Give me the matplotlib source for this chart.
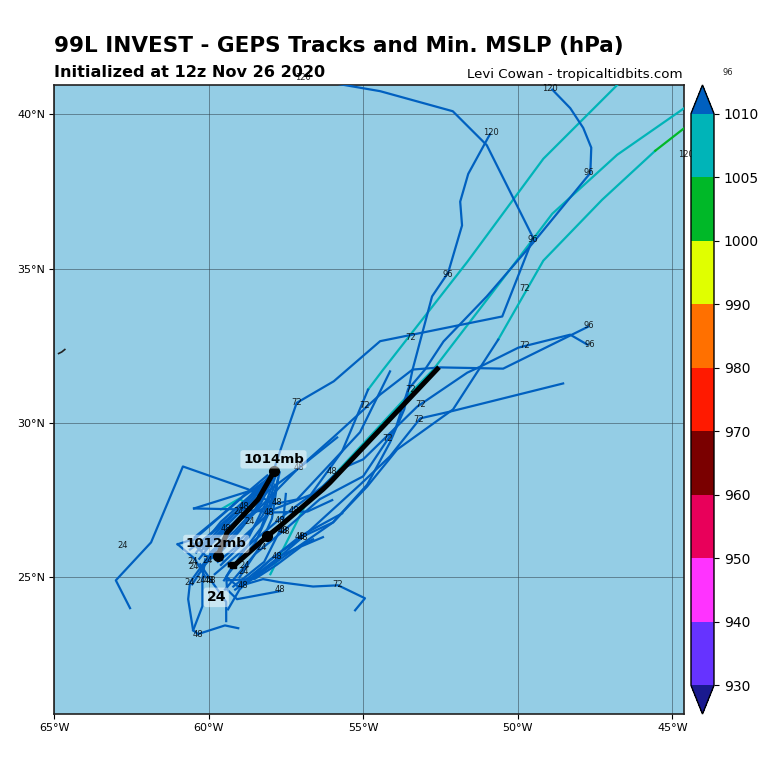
import matplotlib
matplotlib.use('Agg')
import matplotlib.pyplot as plt
from matplotlib.cm import ScalarMappable
from matplotlib.colors import BoundaryNorm, ListedColormap

# colour levels of min. MSLP
levels = [930, 940, 950, 960, 970, 980, 990, 1000, 1005, 1010]
level_colors = ['#6633ff', '#ff33ff', '#e8005a', '#7a0000', '#ff1a00',
                '#ff7000', '#e0ff00', '#00b828', '#00b4b8']
under_color = '#1a1a8f'
over_color = '#0060c0'

lon_ticks = [-65, -60, -55, -50, -45]
lat_ticks = [25, 30, 35, 40]

# ensemble tracks, (lon, lat)
blue_tracks = [
    [(-55.9, 41.0), (-54.45, 40.75), (-52.1, 40.1), (-51.0, 39.0), (-49.5, 36.0), (-50.5, 33.45),
     (-54.45, 32.65), (-55.95, 31.35), (-57.15, 30.65), (-57.7, 29.05), (-57.9, 28.45)],
    [(-50.9, 39.35), (-51.6, 38.07), (-51.86, 37.17), (-51.8, 36.4), (-52.25, 34.87), (-52.77, 34.1),
     (-53.4, 31.73), (-53.67, 30.44), (-54.13, 29.37), (-54.87, 28.0), (-55.97, 26.78), (-56.94, 26.33),
     (-58.0, 25.58), (-59.0, 24.6), (-59.37, 23.96)],
    [(-48.88, 40.8), (-48.3, 40.2), (-47.88, 39.56), (-47.62, 38.92), (-47.65, 38.1), (-49.5, 35.84),
     (-51.0, 34.1), (-52.4, 32.64), (-53.0, 31.73), (-53.55, 31.08), (-53.93, 29.88), (-55.0, 28.27),
     (-56.4, 27.53), (-57.52, 26.55), (-58.5, 25.75), (-59.47, 24.6)],
    [(-54.84, 31.08), (-55.68, 29.08), (-57.14, 27.52), (-57.95, 27.36), (-58.98, 26.88), (-60.0, 25.58),
     (-60.53, 24.77)],
    [(-50.63, 32.7), (-52.09, 30.44), (-53.9, 29.14), (-54.87, 27.94), (-55.97, 26.78), (-57.69, 25.58),
     (-58.82, 24.77)],
    [(-47.72, 33.12), (-50.47, 31.76), (-52.5, 31.8), (-53.4, 31.73), (-54.45, 30.92), (-55.97, 29.53),
     (-57.14, 28.49), (-58.0, 27.85), (-59.0, 26.88), (-59.95, 25.74)],
    [(-47.75, 32.54), (-48.3, 32.86), (-49.98, 32.44), (-51.2, 31.83), (-51.63, 31.63), (-53.25, 30.53),
     (-55.0, 28.82), (-55.74, 28.5), (-56.3, 27.95), (-57.52, 27.04), (-58.66, 26.07), (-59.8, 25.1)],
    [(-48.53, 31.28), (-52.18, 30.37), (-53.15, 30.15), (-54.13, 28.92), (-55.1, 28.0), (-57.04, 26.23),
     (-58.17, 25.26), (-59.14, 24.6)],
    [(-54.13, 31.67), (-55.1, 29.7), (-55.68, 29.08), (-56.7, 27.67), (-57.9, 27.2), (-59.0, 26.2)],
    [(-55.84, 29.53), (-57.14, 28.49), (-58.4, 27.2), (-59.47, 26.07), (-60.1, 25.43)],
    [(-56.62, 26.23), (-57.69, 25.68), (-58.66, 24.93)],
    [(-55.68, 27.07), (-57.04, 26.33), (-58.17, 25.42), (-58.98, 24.77)],
    [(-55.26, 23.93), (-54.94, 24.32), (-55.81, 24.74), (-56.62, 24.7), (-57.69, 24.84), (-58.24, 24.94),
     (-59.05, 24.7), (-59.43, 25.02), (-59.2, 25.4)],
    [(-57.69, 24.55), (-59.08, 24.29), (-59.4, 24.6), (-59.43, 25.0)],
    [(-62.54, 24.0), (-63.0, 24.9), (-61.86, 26.13), (-60.83, 28.59), (-58.72, 27.85), (-58.0, 27.43)],
    [(-60.47, 27.23), (-58.98, 27.2), (-57.9, 27.1), (-56.8, 27.13), (-56.0, 27.5)],
    [(-60.47, 27.23), (-58.5, 27.85), (-57.85, 28.35)],
    [(-61.0, 26.07), (-60.6, 26.2), (-60.1, 25.7), (-59.55, 25.55)],
    [(-61.0, 26.07), (-60.45, 25.6), (-60.1, 25.0)],
    [(-59.04, 23.35), (-59.47, 23.44), (-60.34, 23.16), (-60.5, 23.28), (-60.66, 24.29), (-60.6, 24.84),
     (-60.18, 25.42), (-59.0, 26.88)],
    [(-60.5, 23.28), (-60.2, 24.06), (-60.2, 24.94), (-60.11, 25.58)],
    [(-59.43, 23.58), (-59.43, 24.2), (-59.95, 24.94), (-60.27, 25.42)],
    [(-60.3, 25.6), (-59.5, 26.6), (-58.6, 27.5), (-57.95, 28.3)],
    [(-60.2, 26.0), (-59.3, 26.9), (-58.4, 27.9), (-57.85, 28.4)],
    [(-60.0, 26.1), (-59.0, 26.9), (-58.2, 27.7), (-57.9, 28.45)],
    [(-60.4, 25.8), (-59.6, 26.8), (-58.7, 27.6), (-58.0, 28.3)],
    [(-59.8, 25.6), (-59.0, 26.5), (-58.3, 27.4), (-57.8, 28.45)],
    [(-59.6, 25.4), (-58.7, 26.3), (-58.15, 27.4), (-57.75, 28.5)],
    [(-59.3, 25.2), (-58.5, 26.1), (-58.0, 27.2), (-57.7, 28.4)],
    [(-59.0, 25.0), (-58.4, 25.9), (-57.95, 26.9), (-57.75, 28.2)],
    [(-60.5, 26.2), (-59.7, 26.9), (-58.9, 27.6), (-58.2, 28.1)],
    [(-60.6, 25.9), (-59.8, 26.5), (-59.0, 27.2), (-58.3, 27.9)],
    [(-59.5, 24.9), (-58.9, 25.8), (-58.3, 26.6), (-57.9, 27.7)],
    [(-59.2, 24.7), (-58.2, 25.5), (-57.6, 26.7), (-57.5, 27.7)],
    [(-59.4, 24.9), (-58.5, 24.95), (-57.8, 25.4), (-57.0, 26.0), (-56.3, 26.3)],
    [(-60.35, 26.05), (-59.55, 26.75), (-58.8, 27.4), (-58.1, 28.2)],
    [(-60.25, 25.85), (-59.4, 26.7), (-58.5, 27.6), (-57.95, 28.4)],
    [(-60.1, 25.9), (-59.2, 26.75), (-58.45, 27.55), (-57.85, 28.3)],
    [(-59.95, 25.8), (-59.15, 26.5), (-58.5, 27.2), (-58.0, 28.0)],
    [(-60.45, 26.3), (-59.6, 27.0), (-58.75, 27.75), (-58.1, 28.3)],
    [(-59.7, 25.5), (-58.85, 26.2), (-58.25, 27.0), (-57.85, 28.0)],
]

teal_tracks = [
    [(-46.0, 41.7), (-46.78, 40.95), (-49.17, 38.56), (-51.63, 35.22), (-54.35, 31.73), (-54.84, 31.08)],
    [(-44.0, 40.7), (-44.64, 40.18), (-46.78, 38.69), (-48.88, 36.78), (-50.57, 34.55), (-52.73, 31.73),
     (-53.58, 30.86), (-56.07, 28.17), (-56.81, 27.46), (-57.69, 25.71), (-58.0, 25.1)],
    [(-45.55, 38.82), (-47.27, 37.23), (-49.17, 35.26), (-50.63, 32.7)],
    [(-59.6, 27.2), (-59.0, 27.55), (-58.7, 27.3)],
]

green_tracks = [
    [(-44.0, 40.0), (-44.64, 39.53), (-45.55, 38.82)],
]

# operational mean tracks
black_a = [(-57.88, 28.43), (-58.4, 27.52), (-59.4, 26.45), (-59.7, 25.7)]
black_b = [(-52.6, 31.75), (-56.07, 28.07), (-56.3, 27.85), (-57.7, 26.65), (-58.1, 26.33), (-59.15, 25.4),
           (-59.3, 25.4)]
black_dots = [(-57.88, 28.43), (-59.7, 25.7), (-58.1, 26.33)]
black_end = [(-59.2, 25.4)]

bermuda_lon = [-64.85, -64.75, -64.65]
bermuda_lat = [32.25, 32.3, 32.38]

# forecast hour labels
hour_labels = [
    ('24', -62.77, 26.03), ('24', -59.04, 27.14), ('24', -58.66, 26.8), ('24', -58.27, 25.97),
    ('24', -60.5, 25.52), ('24', -60.47, 25.36), ('24', -60.6, 24.84), ('24', -60.27, 24.9),
    ('24', -58.82, 25.38), ('24', -58.88, 25.2), ('24', -60.02, 25.55),
    ('48', -57.07, 28.55), ('48', -56.0, 28.43), ('48', -57.78, 27.43), ('48', -58.85, 27.3),
    ('48', -58.04, 27.1), ('48', -57.24, 27.17), ('48', -57.69, 26.85), ('48', -57.6, 26.5),
    ('48', -57.52, 26.47), ('48', -57.04, 26.33), ('48', -56.94, 26.3), ('48', -57.78, 25.68),
    ('48', -58.88, 24.74), ('48', -57.69, 24.6), ('48', -60.34, 23.16), ('48', -59.43, 26.58),
    ('48', -59.92, 24.9), ('48', -59.98, 24.9),
    ('72', -57.14, 30.66), ('72', -54.94, 30.57), ('72', -53.48, 32.77), ('72', -49.76, 34.35),
    ('72', -49.76, 32.51), ('72', -53.45, 31.1), ('72', -53.15, 30.6), ('72', -53.19, 30.11),
    ('72', -54.22, 29.5), ('72', -55.84, 24.77),
    ('96', -52.25, 34.8), ('96', -49.5, 35.94), ('96', -47.69, 38.1), ('96', -47.69, 33.16),
    ('96', -47.66, 32.54), ('96', -43.19, 41.35),
    ('120', -56.94, 41.18), ('120', -50.86, 39.4), ('120', -48.95, 40.83), ('120', -44.55, 38.69),
]

# labels with a pale box
boxed_labels = [
    ('1014mb', -57.9, 28.82, 9.6), ('1012mb', -59.75, 26.08, 9.6), ('24', -59.75, 24.35, 10),
]

fig = plt.figure(figsize=(7.68, 7.68), dpi=100)
ax = fig.add_axes([54 / 768, 1 - 714 / 768, 630 / 768, 629 / 768])
ax.set_facecolor('#94cde5')
ax.set_xlim(-65, -44.62)
ax.set_ylim(20.57, 40.95)

ax.set_xticks(lon_ticks)
ax.set_xticklabels(['%d°W' % abs(v) for v in lon_ticks], fontsize=8)
ax.set_yticks(lat_ticks)
ax.set_yticklabels(['%d°N' % v for v in lat_ticks], fontsize=8)
ax.tick_params(length=3.5, width=0.8, pad=3)
ax.grid(True, color='#33444f', lw=0.7, alpha=0.55)
ax.set_axisbelow(True)
for sp in ax.spines.values():
    sp.set_linewidth(1.2)
    sp.set_color('#222222')

ax.plot(bermuda_lon, bermuda_lat, color='#222222', lw=1.2, zorder=2)


def draw_tracks(tracks, color, z):
    for tr in tracks:
        ax.plot([p[0] for p in tr], [p[1] for p in tr], color=color, lw=1.6, zorder=z,
                solid_joinstyle='round')


draw_tracks(teal_tracks, level_colors[8], 3)
draw_tracks(green_tracks, level_colors[7], 3)
draw_tracks(blue_tracks, over_color, 3)

for tr in (black_a, black_b):
    ax.plot([p[0] for p in tr], [p[1] for p in tr], color='black', lw=3.6, zorder=5)
ax.plot([p[0] for p in black_dots], [p[1] for p in black_dots], 'o', color='black', ms=7, zorder=6)
ax.plot([p[0] for p in black_end], [p[1] for p in black_end], 's', color='black', ms=4.5, zorder=6)

for txt, lon, lat in hour_labels:
    ax.text(lon, lat, txt, fontsize=6, color='black', ha='center', va='center', alpha=0.85,
            zorder=7, clip_on=False)

for txt, lon, lat, size in boxed_labels:
    ax.text(lon, lat, txt, fontsize=size, fontweight='bold', color='black', ha='center', va='center',
            zorder=8, bbox=dict(boxstyle='round,pad=0.2', facecolor='white', edgecolor='none', alpha=0.5))

# colorbar
cmap = ListedColormap(level_colors)
cmap.set_under(under_color)
cmap.set_over(over_color)
norm = BoundaryNorm(levels, cmap.N)
cax = fig.add_axes([691 / 768, 1 - 714 / 768, 23 / 768, 629 / 768])
cb = fig.colorbar(ScalarMappable(norm=norm, cmap=cmap), cax=cax, extend='both', spacing='uniform',
                  ticks=levels, extendfrac=0.05)
cb.ax.tick_params(labelsize=10, length=3.5, width=0.8)
cb.outline.set_linewidth(1)

fig.text(54 / 768, 1 - 46 / 768, '99L INVEST - GEPS Tracks and Min. MSLP (hPa)', fontsize=15.45,
         fontweight='bold', ha='left', va='center')
fig.text(54 / 768, 1 - 72.5 / 768, 'Initialized at 12z Nov 26 2020', fontsize=11.6, fontweight='bold',
         ha='left', va='center')
fig.text(683 / 768, 1 - 74.5 / 768, 'Levi Cowan - tropicaltidbits.com', fontsize=9.6, ha='right', va='center')

fig.savefig('out.png', dpi=100)
